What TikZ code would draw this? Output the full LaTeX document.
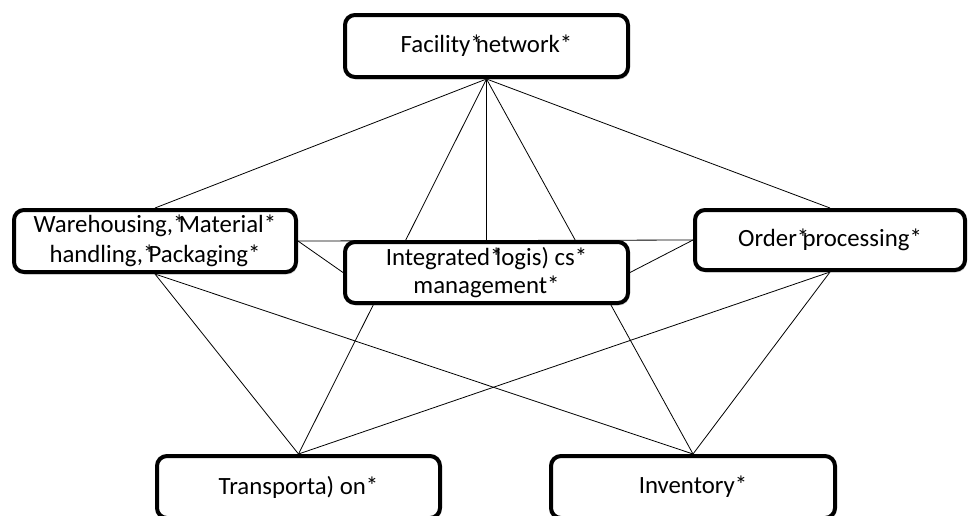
\documentclass[tikz,border=0pt]{standalone}
\usepackage{fontspec}
\setmainfont{Carlito}
\usetikzlibrary{backgrounds,shadows}

\newcommand\spst{\rlap{*}\hspace{0.226em}}

\begin{document}
\begin{tikzpicture}[x=1pt,y=-1pt,
  box/.style={draw,line width=4pt,rounded corners=10pt,fill=white,align=center,
    minimum width=283pt,minimum height=62pt,inner sep=0pt,
    font=\fontsize{24.8}{30}\selectfont,
    drop shadow={opacity=0.25,shadow xshift=1.5pt,shadow yshift=-2.5pt}},
  link/.style={line width=0.8pt}]
\useasboundingbox (0,0) rectangle (971,515);

\path (486.5,46)  node[box] (FN) {Facility\spst network*};
\path (155,241)   node[box,minimum width=282pt] (WH) {Warehousing,\spst Material*\\handling,\spst Packaging*};
\path (486.5,272.5) node[box,minimum height=61pt,font=\fontsize{24.8}{28}\selectfont] (IL) {Integrated\spst logis) cs*\\management*};
\path (830,240)   node[box,minimum width=270pt,minimum height=60pt] (OP) {Order\spst processing*};
\path (298.5,487) node[box] (TR) {Transporta) on*};
\path (693,487)   node[box,minimum width=284pt] (IN) {Inventory*};

\begin{pgfonlayer}{background}
\draw[link] (FN.south) to (WH.north);
\draw[link] (FN.south) to (OP.north);
\draw[link] (FN.south) to (IL.north);
\draw[link] (FN.south) to (TR.north);
\draw[link] (FN.south) to (IN.north);
\draw[link] (WH.east) to (OP.west);
\draw[link] (WH.east) to (IL.west);
\draw[link] (OP.west) to (IL.east);
\draw[link] (WH.south) to (TR.north);
\draw[link] (WH.south) to (IN.north);
\draw[link] (OP.south) to (TR.north);
\draw[link] (OP.south) to (IN.north);
\end{pgfonlayer}
\end{tikzpicture}
\end{document}
